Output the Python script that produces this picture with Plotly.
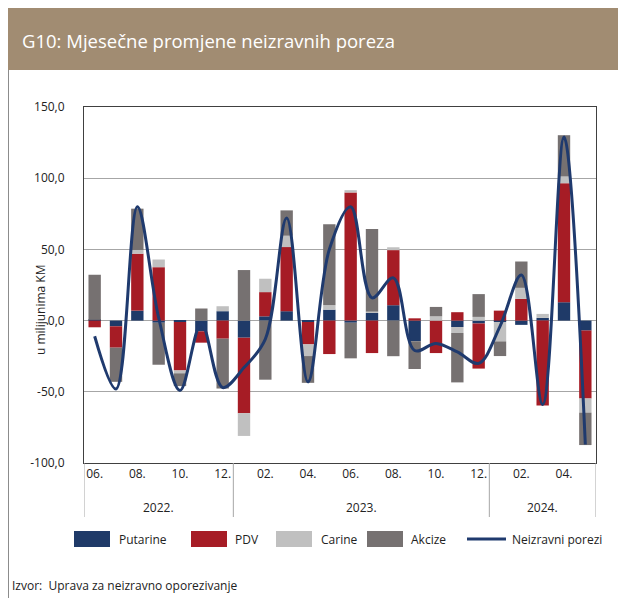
import plotly.graph_objects as go

months = ["06.", "07.", "08.", "09.", "10.", "11.", "12.",
          "01.", "02.", "03.", "04.", "05.", "06.", "07.", "08.", "09.", "10.", "11.", "12.",
          "01.", "02.", "03.", "04.", "05."]
years = ["2022.", "2023.", "2024."]

putarine = [0.5, -4, 7, -1.5, -1, -7.5, 6.6, -12, 3, 6.6, -1, 7.7,
            -1.5, 5.4, 10.8, -14.5, 0, -4.5, -2, -1, -3, 1.9, 12.9, -7]
pdv = [-4.7, -15, 40, 37.5, -34, -8, -12.7, -53, 17, 45, -15.7, -23.5,
       90, -22.8, 38.7, 1.6, -22.8, 5.9, -31.7, 7, 15.3, -59.6, 83.6, -47.7]
carine = [0, 0, 2.6, 5.4, -2, 0, 3.5, -16, 9.4, 8, -8.2, 3,
          1.6, 1, 2, 0, 3, -4.2, 2.6, -13.6, 7.7, 2.8, 4.7, -9.9]
akcize = [31.7, -24, 29, -29.5, -9, 8.5, -35, 35.5, -41.5, 17.8, -18.8, 57,
          -25, 58, -25, -19.5, 6.6, -34.7, 16, -10.3, 18.5, 0, 29, -22.8]
neizravni = [-11, -48, 80, 2, -49, -2, -47, -33, -13, 72, -43, 50,
             80, 16, 30, -21, -16, -22, -30, -4, 32, -59, 129, -87]

ytick_vals = [-100, -50, 0, 50, 100, 150]
ytick_text = ["-100,0", "-50,0", "0,0", "50,0", "100,0", "150,0"]

C_PUT = "#1F3A68"
C_PDV = "#A61C25"
C_CAR = "#C0C0C0"
C_AKC = "#767171"
C_LINE = "#1F3A6E"
FONT = "Open Sans"

x = list(range(len(months)))

fig = go.Figure()
for name, vals, col in [("Putarine", putarine, C_PUT), ("PDV", pdv, C_PDV),
                        ("Carine", carine, C_CAR), ("Akcize", akcize, C_AKC)]:
    fig.add_trace(go.Bar(x=x, y=vals, name=name, marker=dict(color=col, line=dict(width=0)),
                         showlegend=False))
fig.add_trace(go.Scatter(x=x, y=neizravni, mode="lines", name="Neizravni porezi",
                         line=dict(color=C_LINE, width=3, shape="spline", smoothing=1.0),
                         showlegend=False))

# reference pixel layout (screen coords); the page adds an 8px body margin
OFF = 8
L, R, T, B = 84, 596, 107, 463
W, H = 626, 598


def px(X):
    return (X - L) / (R - L)


def py(Y):
    return (B - Y) / (B - T)


shapes = []
annotations = []

# outer frame
shapes.append(dict(type="rect", xref="paper", yref="paper", x0=px(8.5), x1=px(623), y0=py(8.5), y1=py(600),
                   line=dict(color="#8C8C8C", width=1), layer="below"))
# title bar
shapes.append(dict(type="rect", xref="paper", yref="paper", x0=px(8), x1=px(623), y0=py(8), y1=py(70),
                   fillcolor="#A18C72", line=dict(width=0), layer="below"))
annotations.append(dict(text="G10: Mjesečne promjene neizravnih poreza", xref="paper", yref="paper",
                        x=px(20), y=py(40), xanchor="left", yanchor="middle", showarrow=False,
                        font=dict(family=FONT, size=18.5, color="white")))

# year separators
for xv in [-0.5, 6.5, 18.5, 23.5]:
    shapes.append(dict(type="line", xref="x", yref="paper", x0=xv, x1=xv, y0=0, y1=py(517),
                       line=dict(color="#A6A6A6", width=1)))
for yr, xc in zip(years, [3, 12.5, 21]):
    annotations.append(dict(text=yr, xref="x", yref="paper", x=xc, y=py(507), showarrow=False,
                            xanchor="center", yanchor="middle", font=dict(family=FONT, size=12, color="#222")))

# y axis title
annotations.append(dict(text="u milijunima KM", xref="paper", yref="paper", x=px(40), y=py(310),
                        textangle=-90, showarrow=False, xanchor="center", yanchor="middle",
                        font=dict(family=FONT, size=12, color="#222")))

# legend
leg = [("Putarine", C_PUT, 74, 117), ("PDV", C_PDV, 191, 233), ("Carine", C_CAR, 276, 319),
       ("Akcize", C_AKC, 367, 409)]
for name, col, bx, tx in leg:
    shapes.append(dict(type="rect", xref="paper", yref="paper", x0=px(bx), x1=px(bx + 36),
                       y0=py(547), y1=py(531), fillcolor=col, line=dict(width=0)))
    annotations.append(dict(text=name, xref="paper", yref="paper", x=px(tx), y=py(539), showarrow=False,
                            xanchor="left", yanchor="middle", font=dict(family=FONT, size=12, color="#222")))
shapes.append(dict(type="line", xref="paper", yref="paper", x0=px(467), x1=px(506), y0=py(539), y1=py(539),
                   line=dict(color=C_LINE, width=3)))
annotations.append(dict(text="Neizravni porezi", xref="paper", yref="paper", x=px(510), y=py(539),
                        showarrow=False, xanchor="left", yanchor="middle",
                        font=dict(family=FONT, size=12, color="#222")))

# source
annotations.append(dict(text="Izvor:  Uprava za neizravno oporezivanje", xref="paper", yref="paper",
                        x=px(10), y=py(585), showarrow=False, xanchor="left", yanchor="middle",
                        font=dict(family=FONT, size=12, color="#222")))

fig.update_layout(
    width=W, height=H,
    margin=dict(l=L - OFF, r=W - R + OFF, t=T - OFF, b=H - B + OFF, pad=0),
    paper_bgcolor="white", plot_bgcolor="white",
    barmode="relative", bargap=0.42,
    shapes=shapes, annotations=annotations,
    font=dict(family=FONT, size=12, color="#222"),
    showlegend=False,
)
fig.update_xaxes(range=[-0.5, 23.5], tickvals=x[::2], ticktext=months[::2], showgrid=False,
                 showline=True, mirror=True, linecolor="#404040", linewidth=1, ticks="",
                 tickfont=dict(family=FONT, size=12, color="#222"), zeroline=False)
fig.update_yaxes(range=[-100, 150], tickvals=ytick_vals, ticktext=ytick_text, showgrid=True,
                 gridcolor="#A6A6A6", gridwidth=1, zeroline=True, zerolinecolor="#A6A6A6", zerolinewidth=1,
                 showline=True, mirror=True, linecolor="#404040", linewidth=1, ticks="",
                 ticklabelstandoff=16,
                 tickfont=dict(family=FONT, size=12, color="#222"))

fig.write_html("out.html")
